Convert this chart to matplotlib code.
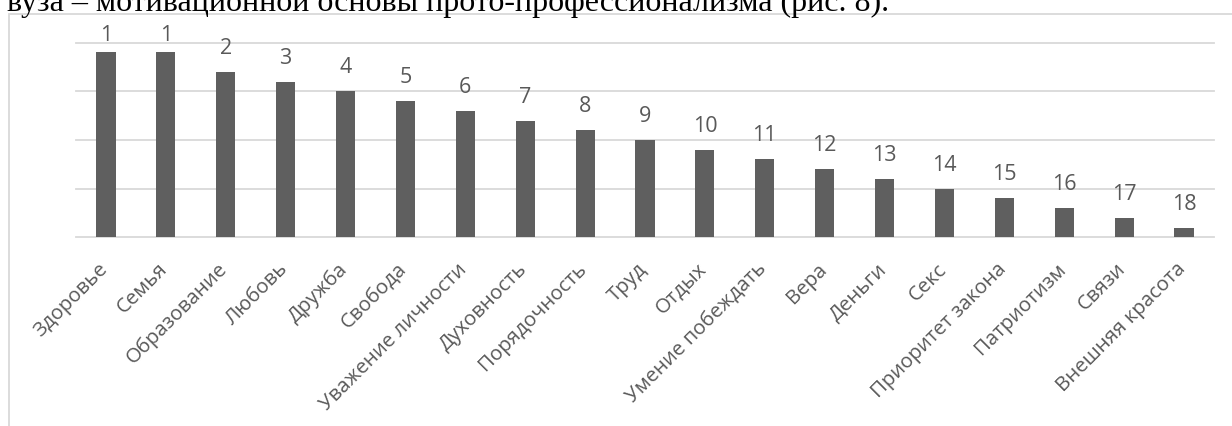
import matplotlib
matplotlib.use("Agg")
import matplotlib.pyplot as plt
from matplotlib.patches import Rectangle
import matplotlib.transforms as mtransforms

# Values and their ranks
categories = ["Здоровье", "Семья", "Образование", "Любовь", "Дружба", "Свобода",
              "Уважение личности", "Духовность", "Порядочность", "Труд", "Отдых",
              "Умение побеждать", "Вера", "Деньги", "Секс", "Приоритет закона",
              "Патриотизм", "Связи", "Внешняя красота"]
values = [19, 19, 17, 16, 15, 14, 13, 12, 11, 10, 9, 8, 7, 6, 5, 4, 3, 2, 1]
ranks = [1, 1, 2, 3, 4, 5, 6, 7, 8, 9, 10, 11, 12, 13, 14, 15, 16, 17, 18]
y_ticks = [0, 5, 10, 15, 20]
caption = "вуза – мотивационной основы прото-профессионализма (рис. 8)."

W, H, DPI = 1232, 426, 100
fig = plt.figure(figsize=(W / DPI, H / DPI), dpi=DPI)
fig.patch.set_facecolor("white")

sans = ["Open Sans", "DejaVu Sans"]
text_gray = "#595959"
grid_gray = "#d9d9d9"
bar_gray = "#5f5f5f"

# text line above the chart
fig.text(7 / W, 1 - 11.5 / H, caption, fontsize=23, family=["Liberation Serif", "DejaVu Serif"],
         color="black", ha="left", va="baseline")

# chart frame (left and top edges visible)
frame = Rectangle((8.5 / W, -0.1), 1.2, 1 - 13.5 / H + 0.1, transform=fig.transFigure,
                  fill=False, edgecolor=grid_gray, linewidth=1.3)
fig.patches.append(frame)

# plot area
x0, x1 = 76, 1214
y_top, y_base = 42.7, 237.3
ax = fig.add_axes([x0 / W, (H - y_base) / H, (x1 - x0) / W, (y_base - y_top) / H])
ax.set_xlim(-0.5, len(categories) - 0.5)
ax.set_ylim(0, 20)
for s in ax.spines.values():
    s.set_visible(False)
ax.set_yticks([])
ax.patch.set_alpha(0)

for t in y_ticks:
    ax.axhline(t, color=grid_gray, linewidth=1.3, clip_on=False, zorder=0)

xs = list(range(len(categories)))
ax.bar(xs, values, width=0.32, color=bar_gray, zorder=2)

px_per_unit = (y_base - y_top) / 20
gap = 18 / px_per_unit
for x, v, r in zip(xs, values, ranks):
    ax.text(x, min(v + gap, 20.2), str(r), ha="center", va="baseline",
            fontsize=15.5, family=sans, color=text_gray, clip_on=False)

ax.set_xticks(xs)
ax.set_xticklabels(categories, rotation=45, ha="right", va="center",
                   rotation_mode="anchor", fontsize=14.7, family=sans, color=text_gray)
ax.tick_params(axis="x", length=0, pad=21)
offset = mtransforms.ScaledTranslation(-1 / DPI, 0, fig.dpi_scale_trans)
for lab in ax.get_xticklabels():
    lab.set_transform(lab.get_transform() + offset)

fig.savefig("out.png", dpi=DPI, facecolor="white")
